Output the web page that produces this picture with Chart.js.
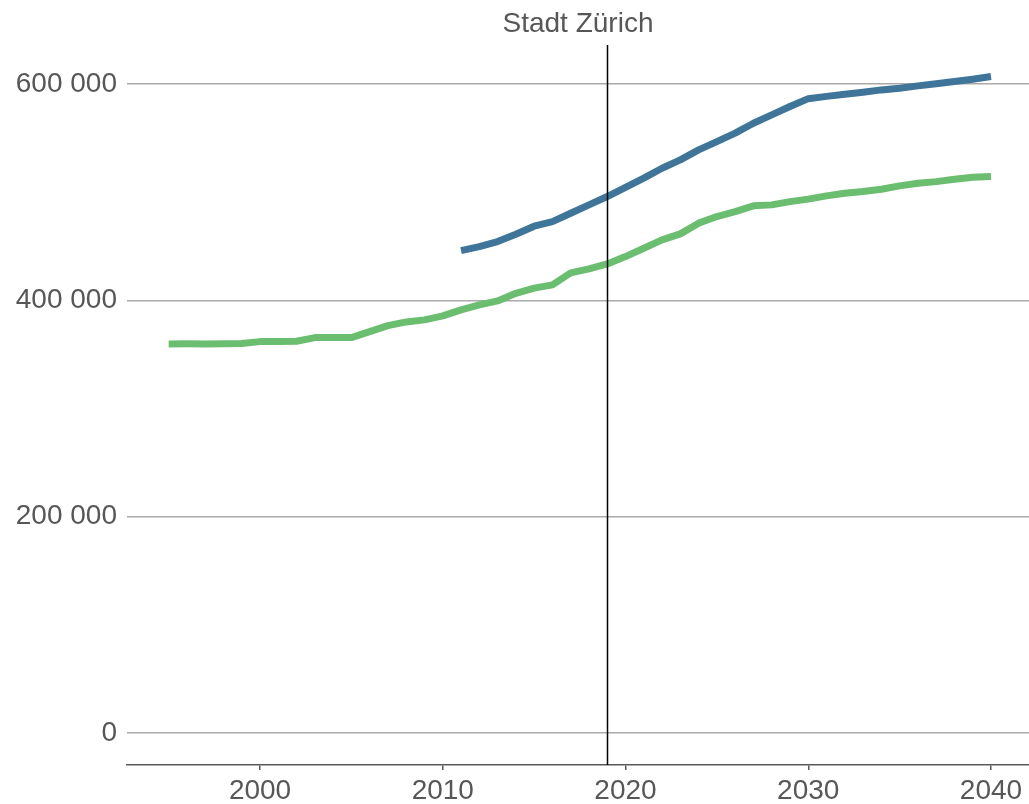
<!DOCTYPE html>
<html lang="de">
<head>
<meta charset="utf-8">
<title>Stadt Zürich</title>
<script src="https://cdn.jsdelivr.net/npm/chart.js@4/dist/chart.umd.min.js"></script>
<style>
  html, body { margin: 0; padding: 0; background: #ffffff; }
  #wrap { width: 1029px; height: 804px; }
</style>
</head>
<body>
<div id="wrap"><canvas id="chart" width="1029" height="804"></canvas></div>
<script>
// Chart data
const chartTitle = 'Stadt Zürich';
const markerYear = 2019;

const greenYears = [
  1995, 1996, 1997, 1998, 1999, 2000, 2001, 2002, 2003, 2004, 2005, 2006, 2007,
  2008, 2009, 2010, 2011, 2012, 2013, 2014, 2015, 2016, 2017, 2018, 2019, 2020,
  2021, 2022, 2023, 2024, 2025, 2026, 2027, 2028, 2029, 2030, 2031, 2032, 2033,
  2034, 2035, 2036, 2037, 2038, 2039, 2040,
];
const greenValues = [
  359700, 359800, 359700, 359800, 360000, 361800, 361900, 362100, 365500, 365600,
  365500, 371000, 376600, 380000, 381900, 385600, 391100, 395700, 399400, 406500,
  411200, 414200, 425300, 429000, 433600, 440400, 448100, 455800, 461400, 471300,
  477400, 482000, 487300, 488200, 491200, 493500, 496500, 499000, 500500, 502700,
  505800, 508200, 509700, 511900, 513800, 514400,
];

const blueYears = [
  2011, 2012, 2013, 2014, 2015, 2016, 2017, 2018, 2019, 2020, 2021, 2022, 2023,
  2024, 2025, 2026, 2027, 2028, 2029, 2030, 2031, 2032, 2033, 2034, 2035, 2036,
  2037, 2038, 2039, 2040,
];
const blueValues = [
  445900, 449600, 454300, 461000, 468500, 472700, 480500, 488200, 495900, 504400,
  513000, 522100, 529800, 539000, 546700, 554500, 563700, 571400, 579100, 586400,
  588500, 590500, 592400, 594500, 596100, 598200, 600100, 602200, 604400, 606800,
];

const xTicks = [2000, 2010, 2020, 2030, 2040];
const yTicks = [0, 200000, 400000, 600000];

const colors = {
  green: '#6bbd6f',
  blue: '#3e7599',
  text: '#575757',
  grid: '#aaaaaa',
  axis: '#595959',
};

const fontFamily = '"Liberation Sans", Arial, sans-serif';

// Function to pair years with values
function toPoints(years, values) {
  return years.map(function (year, i) {
    return { x: year, y: values[i] };
  });
}

// Function to format numbers with a space as thousands separator
function formatNumber(value) {
  return String(Math.round(value)).replace(/\B(?=(\d{3})+(?!\d))/g, ' ');
}

// Plugin: vertical marker line and title
const markerPlugin = {
  id: 'marker',
  afterDatasetsDraw: function (chart) {
    const ctx = chart.ctx;
    const area = chart.chartArea;
    const x = Math.round(chart.scales.x.getPixelForValue(markerYear)) + 0.5;
    ctx.save();
    ctx.strokeStyle = '#000000';
    ctx.lineWidth = 1.5;
    ctx.beginPath();
    ctx.moveTo(x, area.top);
    ctx.lineTo(x, area.bottom);
    ctx.stroke();

    ctx.fillStyle = colors.text;
    ctx.font = '28px ' + fontFamily;
    ctx.textAlign = 'center';
    ctx.textBaseline = 'middle';
    ctx.fillText(chartTitle, (area.left + area.right) / 2, 24);
    ctx.restore();
  },
};

const tickFont = { family: fontFamily, size: 28 };

const ctx = document.getElementById('chart').getContext('2d');
new Chart(ctx, {
  type: 'line',
  data: {
    datasets: [
      {
        label: 'Bevölkerung',
        data: toPoints(greenYears, greenValues),
        borderColor: colors.green,
        backgroundColor: colors.green,
        borderWidth: 7,
        pointRadius: 0,
        tension: 0,
        borderCapStyle: 'butt',
        borderJoinStyle: 'round',
      },
      {
        label: 'Szenario',
        data: toPoints(blueYears, blueValues),
        borderColor: colors.blue,
        backgroundColor: colors.blue,
        borderWidth: 7,
        pointRadius: 0,
        tension: 0,
        borderCapStyle: 'butt',
        borderJoinStyle: 'round',
      },
    ],
  },
  options: {
    responsive: false,
    animation: false,
    layout: { padding: { top: 45, right: 0, left: 0, bottom: 0 } },
    plugins: {
      legend: { display: false },
      tooltip: { enabled: false },
      title: { display: false },
    },
    scales: {
      x: {
        type: 'linear',
        min: 1992.72,
        max: 2042.08,
        afterBuildTicks: function (axis) {
          axis.ticks = xTicks.map(function (v) { return { value: v }; });
        },
        afterFit: function (axis) {
          axis.height = 39;
        },
        border: { display: true, color: colors.axis, width: 1.5 },
        grid: {
          drawOnChartArea: false,
          drawTicks: true,
          tickLength: 5,
          tickColor: colors.axis,
          lineWidth: 1.5,
        },
        ticks: {
          color: colors.text,
          font: tickFont,
          padding: 4,
          maxRotation: 0,
          autoSkip: false,
          callback: function (value) { return String(value); },
        },
      },
      y: {
        min: -29600,
        max: 636000,
        afterBuildTicks: function (axis) {
          axis.ticks = yTicks.map(function (v) { return { value: v }; });
        },
        afterFit: function (axis) {
          axis.width = 127;
        },
        border: { display: false },
        grid: {
          color: colors.grid,
          lineWidth: 1.5,
          drawTicks: false,
        },
        ticks: {
          color: colors.text,
          font: tickFont,
          padding: 10,
          callback: function (value) { return formatNumber(value); },
        },
      },
    },
  },
  plugins: [markerPlugin],
});
</script>
</body>
</html>
